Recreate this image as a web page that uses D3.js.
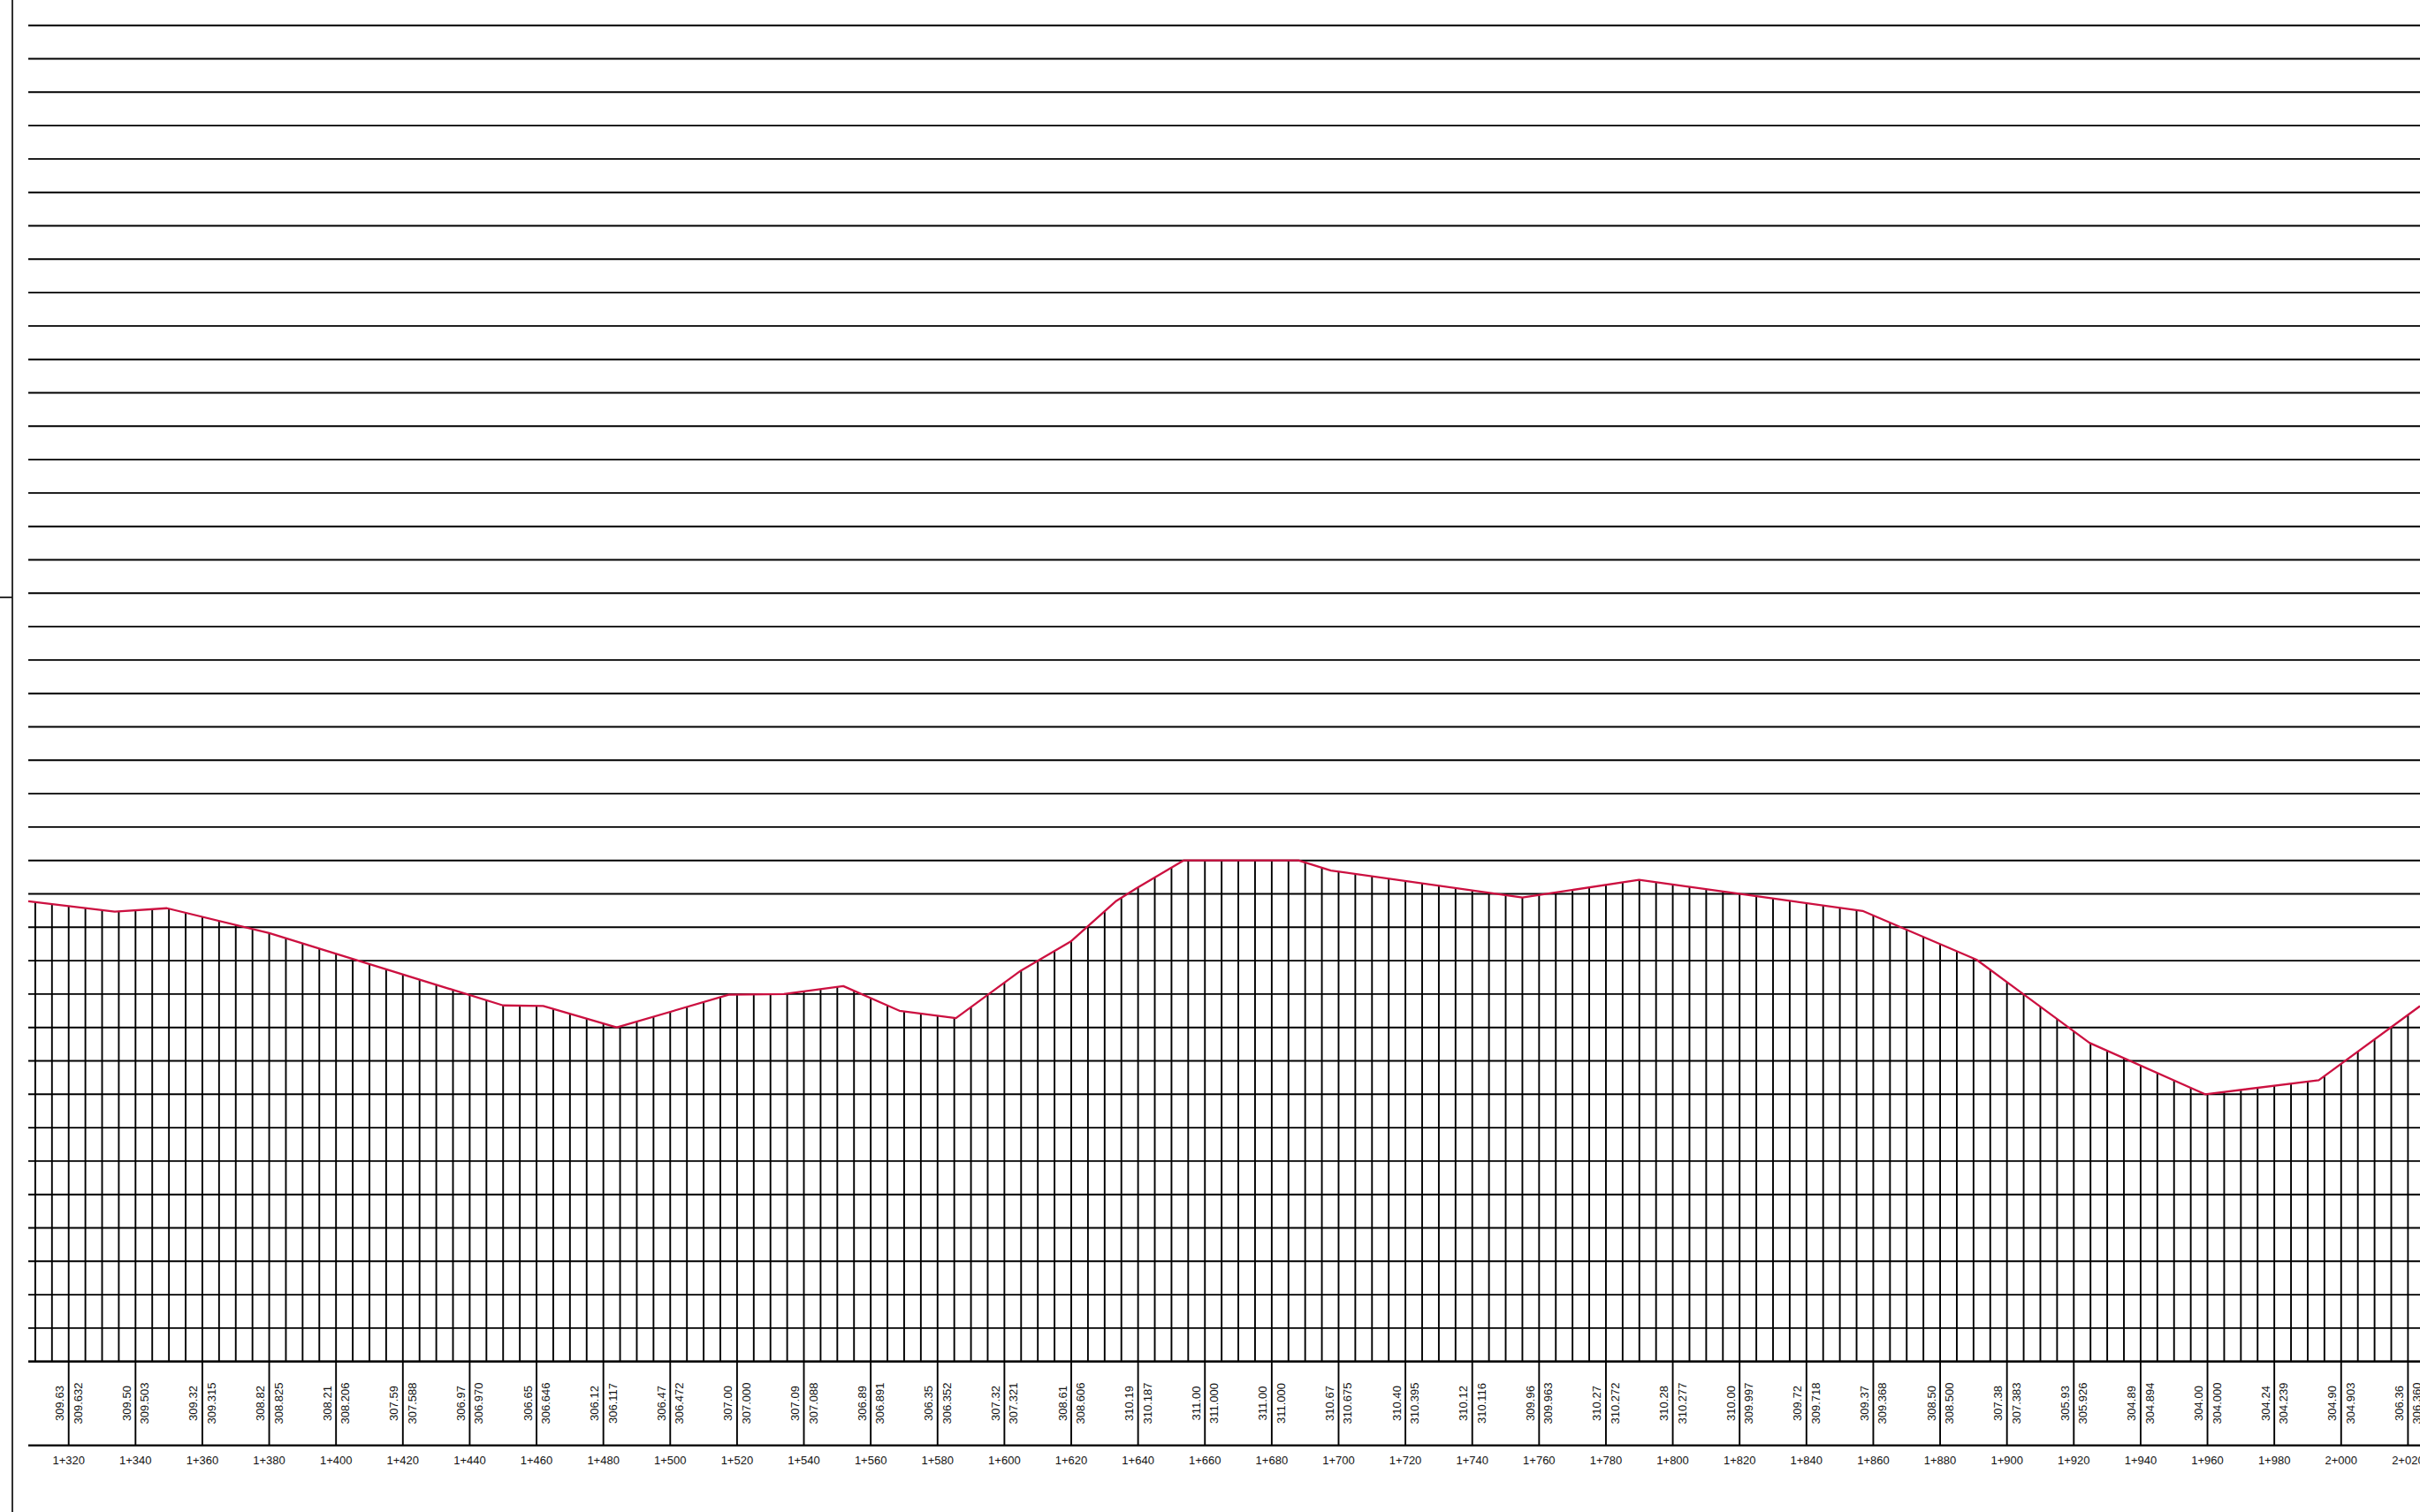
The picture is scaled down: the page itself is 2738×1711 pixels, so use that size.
<!DOCTYPE html>
<html>
<head>
<meta charset="utf-8">
<script src="https://cdn.jsdelivr.net/npm/d3@7"></script>
<style>
  body { margin: 0; background: #fff; }
  text { font-family: "Liberation Sans", Arial, sans-serif; font-size: 13px; fill: #111; }
</style>
</head>
<body>
<div id="profile"></div>
<script>
// stations labelled every 20 m
var stations = [1320, 1340, 1360, 1380, 1400, 1420, 1440, 1460, 1480, 1500, 1520, 1540,
    1560, 1580, 1600, 1620, 1640, 1660, 1680, 1700, 1720, 1740, 1760, 1780, 1800, 1820,
    1840, 1860, 1880, 1900, 1920, 1940, 1960, 1980, 2000, 2020];
var stationLabels = ["1+320", "1+340", "1+360", "1+380", "1+400", "1+420", "1+440", "1+460",
    "1+480", "1+500", "1+520", "1+540", "1+560", "1+580", "1+600", "1+620", "1+640", "1+660",
    "1+680", "1+700", "1+720", "1+740", "1+760", "1+780", "1+800", "1+820", "1+840", "1+860",
    "1+880", "1+900", "1+920", "1+940", "1+960", "1+980", "2+000", "2+020"];
var designElev = ["309.63", "309.50", "309.32", "308.82", "308.21", "307.59", "306.97", "306.65",
    "306.12", "306.47", "307.00", "307.09", "306.89", "306.35", "307.32", "308.61", "310.19", "311.00",
    "311.00", "310.67", "310.40", "310.12", "309.96", "310.27", "310.28", "310.00", "309.72", "309.37",
    "308.50", "307.38", "305.93", "304.89", "304.00", "304.24", "304.90", "306.36"];
var groundElev = ["309.632", "309.503", "309.315", "308.825", "308.206", "307.588", "306.970", "306.646",
    "306.117", "306.472", "307.000", "307.088", "306.891", "306.352", "307.321", "308.606", "310.187", "311.000",
    "311.000", "310.675", "310.395", "310.116", "309.963", "310.272", "310.277", "309.997", "309.718", "309.368",
    "308.500", "307.383", "305.926", "304.894", "304.000", "304.239", "304.903", "306.360"];

// ground line break points
var profileStations = [1307.9, 1333.8, 1349.4, 1380, 1450, 1462, 1484, 1517.5, 1534, 1551.8,
    1568.6, 1585.5, 1604.9, 1619.8, 1633.5, 1639.6, 1653.6, 1688, 1697.7, 1755, 1789.9,
    1856.8, 1890.9, 1924.7, 1959.3, 1993.3, 2023.6];
var profileElev = [309.78, 309.47, 309.57, 308.825, 306.66, 306.645, 306.00, 306.98, 307.00, 307.24,
    306.50, 306.28, 307.70, 308.57, 309.79, 310.17, 311.00, 311.00, 310.70, 309.89, 310.42,
    309.49, 308.03, 305.54, 304.00, 304.42, 306.64];

var hatchStep = 5;       // m between vertical hatch lines
var elevTop = 336, elevDatum = 296;

drawProfile();
function drawProfile(){
    var width = 2738, height = 1711;
    var left = 32, baseY = 1540.7, tableBottom = 1635.7;

    var svg = d3.select("#profile")
    .append("svg")
        .attr("width", width)
        .attr("height", height)
        .style("display", "block");

    var x = d3.scaleLinear()
        .domain([1320, 2020])
        .range([77.7, 2724.4]);

    var y = d3.scaleLinear()
        .domain([elevTop, elevDatum])
        .range([28.7, baseY]);

    var ink = "#000";

    // left frame line + tick
    svg.append("line")
        .attr("x1", 14).attr("x2", 14)
        .attr("y1", 0).attr("y2", height)
        .attr("stroke", "#1a1a1a").attr("stroke-width", 1.8);
    svg.append("line")
        .attr("x1", 0).attr("x2", 14)
        .attr("y1", 676).attr("y2", 676)
        .attr("stroke", "#1a1a1a").attr("stroke-width", 1.8);

    // horizontal elevation lines, 1 m apart
    svg.append("g")
        .selectAll("line")
        .data(d3.range(elevDatum, elevTop + 1, 1))
        .enter()
        .append("line")
        .attr("x1", left)
        .attr("x2", width)
        .attr("y1", function (d) { return y(d); })
        .attr("y2", function (d) { return y(d); })
        .attr("stroke", ink)
        .attr("stroke-width", 1.9);

    // vertical hatch lines from ground down to datum
    var groundAt = function(s) {
        var i = d3.bisectRight(profileStations, s);
        i = Math.max(1, Math.min(profileStations.length - 1, i));
        var s0 = profileStations[i - 1], s1 = profileStations[i];
        var t = (s - s0) / (s1 - s0);
        return profileElev[i - 1] + t * (profileElev[i] - profileElev[i - 1]);
    };
    var hatch = d3.range(1310, 2021, hatchStep);
    svg.append("g")
        .selectAll("line")
        .data(hatch)
        .enter()
        .append("line")
        .attr("x1", function (d) { return x(d); })
        .attr("x2", function (d) { return x(d); })
        .attr("y1", function (d) { return y(groundAt(d)); })
        .attr("y2", baseY)
        .attr("stroke", ink)
        .attr("stroke-width", 1.9);

    // ground line
    var line = d3.line()
        .x(function (d, i) { return x(profileStations[i]); })
        .y(function (d, i) { return y(profileElev[i]); });
    svg.append("path")
        .datum(profileStations)
        .attr("d", line)
        .attr("fill", "none")
        .attr("stroke", "#cc1040")
        .attr("stroke-width", 2.3)
        .attr("stroke-linejoin", "round");

    // elevation table
    svg.append("line")
        .attr("x1", left).attr("x2", width)
        .attr("y1", baseY).attr("y2", baseY)
        .attr("stroke", ink).attr("stroke-width", 2.2);
    svg.append("line")
        .attr("x1", left).attr("x2", width)
        .attr("y1", tableBottom).attr("y2", tableBottom)
        .attr("stroke", ink).attr("stroke-width", 2.2);

    var cols = svg.append("g")
        .selectAll("g")
        .data(stations)
        .enter()
        .append("g");

    cols.append("line")
        .attr("x1", function (d) { return x(d); })
        .attr("x2", function (d) { return x(d); })
        .attr("y1", baseY)
        .attr("y2", tableBottom)
        .attr("stroke", ink)
        .attr("stroke-width", 1.9);

    cols.append("text")
        .attr("text-anchor", "middle")
        .attr("transform", function (d) { return "translate(" + (x(d) - 5.5) + ",1588)rotate(-90)"; })
        .text(function (d, i) { return designElev[i]; });

    cols.append("text")
        .attr("text-anchor", "middle")
        .attr("transform", function (d) { return "translate(" + (x(d) + 15) + ",1588)rotate(-90)"; })
        .text(function (d, i) { return groundElev[i]; });

    cols.append("text")
        .attr("text-anchor", "middle")
        .attr("x", function (d) { return x(d); })
        .attr("y", 1656.5)
        .text(function (d, i) { return stationLabels[i]; });
}
</script>
</body>
</html>
